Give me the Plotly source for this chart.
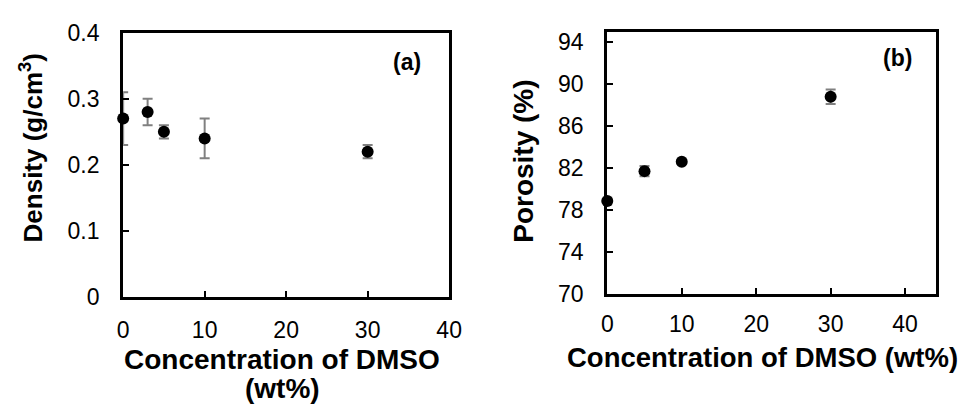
import plotly.graph_objects as go

# Panel (a): density
conc_a = [0, 3, 5, 10, 30]
density = [0.27, 0.28, 0.25, 0.24, 0.22]
density_err = [0.04, 0.02, 0.01, 0.03, 0.01]

# Panel (b): porosity
conc_b = [0, 5, 10, 30]
porosity = [78.85, 81.7, 82.6, 88.8]
porosity_err = [0.3, 0.5, 0.2, 0.7]

W, H = 969, 415
FONT = "Liberation Sans, Arial, sans-serif"

def px_x(p):
    return p / W

def px_y(p):
    return 1 - p / H

fig = go.Figure()
fig.add_trace(go.Scatter(
    x=conc_a, y=density, mode="markers",
    marker=dict(color="black", size=12),
    error_y=dict(type="data", array=density_err, color="#808080", thickness=2, width=5),
    cliponaxis=False, xaxis="x", yaxis="y", showlegend=False))
fig.add_trace(go.Scatter(
    x=conc_b, y=porosity, mode="markers",
    marker=dict(color="black", size=12),
    error_y=dict(type="data", array=porosity_err, color="#808080", thickness=2, width=5),
    cliponaxis=False, xaxis="x2", yaxis="y2", showlegend=False))

axis_common = dict(showline=True, linecolor="black", linewidth=3, mirror=True,
                   ticks="inside", ticklen=6, tickwidth=2, tickcolor="black",
                   showgrid=False, zeroline=False,
                   tickfont=dict(family=FONT, size=23, color="black"))

fig.update_layout(
    width=W, height=H, margin=dict(l=0, r=0, t=0, b=0),
    plot_bgcolor="white", paper_bgcolor="white",
    xaxis=dict(domain=[px_x(119.5), px_x(452)], range=[0, 40], tickvals=[0, 10, 20, 30, 40],
               anchor="y", ticklabelstandoff=10, **axis_common),
    yaxis=dict(domain=[px_y(303), px_y(21)], range=[0, 0.4], tickvals=[0, 0.1, 0.2, 0.3, 0.4],
               ticktext=["0", "0.1", "0.2", "0.3", "0.4"],
               anchor="x", ticklabelstandoff=16, **axis_common),
    xaxis2=dict(domain=[px_x(613.3), px_x(949)], range=[0, 44.2], tickvals=[0, 10, 20, 30, 40],
                anchor="y2", ticklabelstandoff=8, **axis_common),
    yaxis2=dict(domain=[px_y(299.5), px_y(20)], range=[70, 95], tickvals=[70, 74, 78, 82, 86, 90, 94],
                anchor="x2", ticklabelstandoff=16, **axis_common),
)

ann = [
    dict(text="Concentration of DMSO", x=282, y=370, size=28, angle=0),
    dict(text="(wt%)", x=282, y=401, size=28, angle=0),
    dict(text="Concentration of DMSO (wt%)", x=772, y=367, size=27.5, angle=0),
    dict(text="Density (g/cm<sup>3</sup>)", x=27, y=144, size=26, angle=-90),
    dict(text="Porosity (%)", x=527, y=158, size=28, angle=-90),
    dict(text="(a)", x=409, y=52, size=23, angle=0),
    dict(text="(b)", x=909, y=48, size=23, angle=0),
]
for a in ann:
    fig.add_annotation(xref="paper", yref="paper", showarrow=False,
                       xanchor="center", yanchor="middle",
                       text="<b>" + a["text"] + "</b>",
                       x=px_x(a["x"]), y=px_y(a["y"]), textangle=a["angle"],
                       font=dict(family=FONT, size=a["size"], color="black"))

fig.write_html("out.html")
